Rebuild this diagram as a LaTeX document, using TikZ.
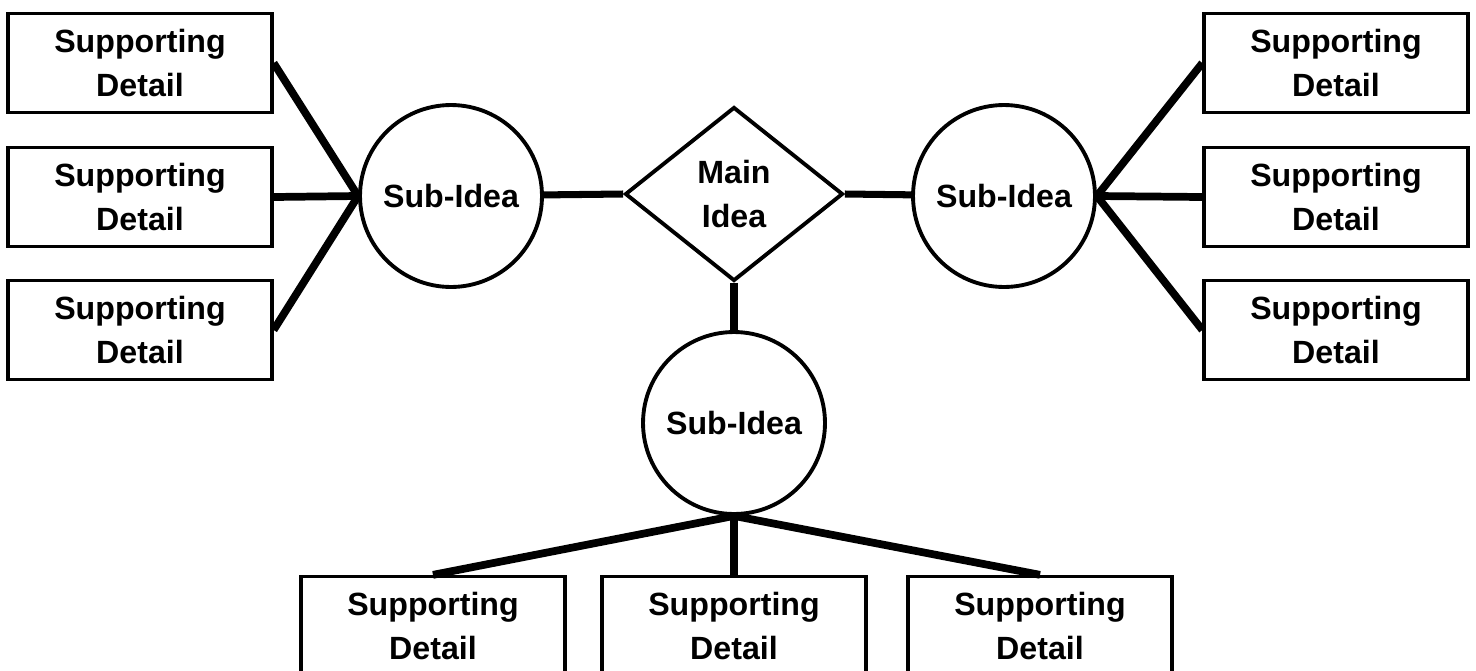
\documentclass[tikz,border=0pt]{standalone}
\usepackage{fontspec}
\setmainfont{Liberation Sans}
\usetikzlibrary{shapes.geometric,positioning}

\begin{document}
\begin{tikzpicture}[
        x = 0.02cm, y = -0.02cm,% one unit is one pixel of the sketch
     font = \bfseries\fontsize{18.3pt}{25pt}\selectfont,
  detail/.style = {rectangle, draw, line width=1.9pt,% boxes with details
                   minimum width=5.28cm, minimum height=1.98cm,
                   inner sep=0pt, align=center},
 subidea/.style = {circle, draw, line width=2.2pt,% circles for sub-ideas
                   minimum size=3.64cm, inner sep=0pt},
mainidea/.style = {diamond, draw, line width=2.2pt, aspect=1.25,% centre
                   minimum width=4.36cm, minimum height=3.48cm,
                   inner sep=0pt, align=center},
    link/.style = {line width=4pt},% main idea to sub-ideas
   spoke/.style = {line width=4.4pt},% sub-idea to details
]
\useasboundingbox (0,0) rectangle (1476,670);
\clip (0,0) rectangle (1476,670);
% centre and sub-ideas
\node[mainidea] (main) at (734,194) {Main\\Idea};
\node[subidea]  (subL) at (451,196) {Sub-Idea};
\node[subidea]  (subR) at (1004,196) {Sub-Idea};
\node[subidea]  (subB) at (734,423) {Sub-Idea};
% supporting details left and right
\foreach \y [count=\i] in {63,197,330}
{
\node[detail] (dL\i) at (140,\y)  {Supporting\\Detail};
\node[detail] (dR\i) at (1336,\y) {Supporting\\Detail};
}
% supporting details below
\foreach \x [count=\i] in {433,734,1040}
\node[detail] (dB\i) at (\x,626) {Supporting\\Detail};
% links from the main idea
\draw[link] (main.west)  -- (subL);
\draw[link] (main.east)  -- (subR);
\draw[link] (main.south) -- (subB);
% spokes to the details
\foreach \i in {1,2,3}
{
\draw[spoke] (subL.west)  -- (dL\i.east);
\draw[spoke] (subR.east)  -- (dR\i.west);
\draw[spoke] (subB.south) -- (dB\i.north);
}
\end{tikzpicture}
\end{document}
